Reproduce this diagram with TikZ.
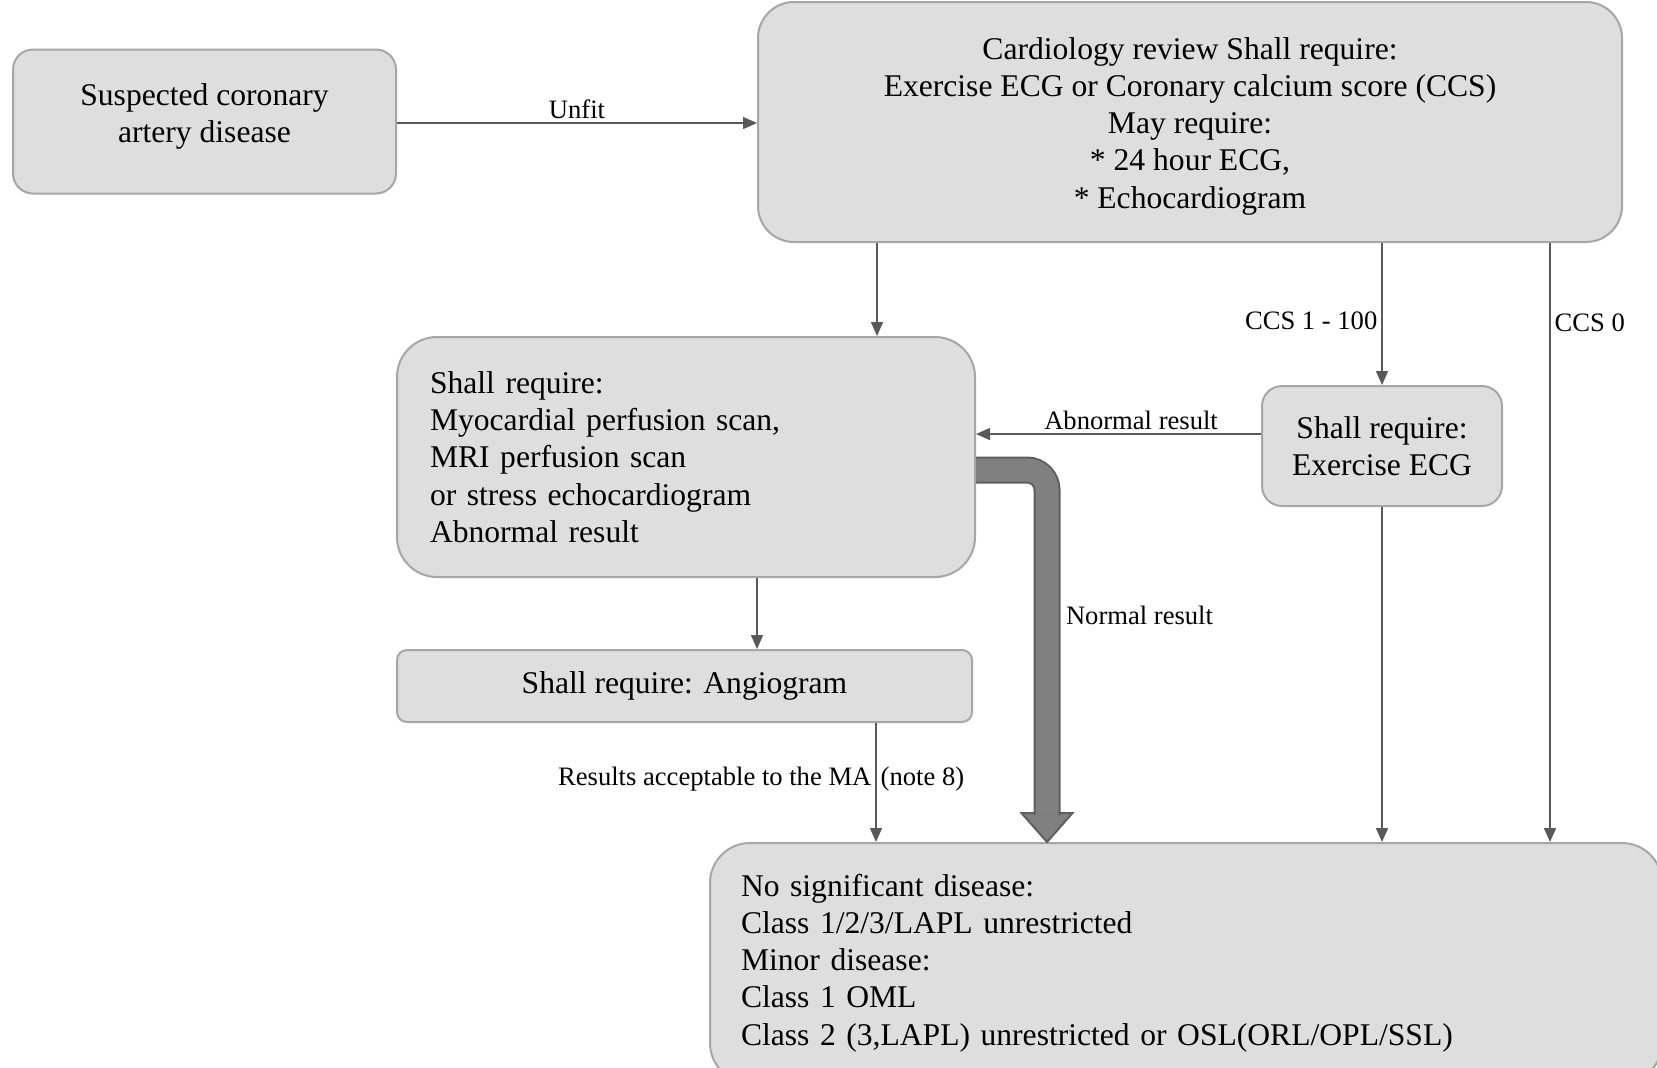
\documentclass[tikz,border=0pt]{standalone}
\usepackage{fontspec}
\setmainfont{Liberation Serif}
\usetikzlibrary{calc, positioning, arrows.meta}

\definecolor{boxfill}{HTML}{DEDEDE}
\definecolor{boxedge}{HTML}{A6A6A6}
\definecolor{lineclr}{HTML}{595959}
\definecolor{bigfill}{HTML}{808080}
\definecolor{bigedge}{HTML}{5F5F5F}

\tikzset{
  stepbox/.style={draw=boxedge, fill=boxfill, line width=1pt, inner sep=0pt,
    font=\fontsize{15.8}{18.6}\selectfont, align=center},
  arr/.style={draw=lineclr, line width=0.7pt, -{Triangle[width=6pt,length=7pt]}},
  lbl/.style={font=\fontsize{13.3}{15}\selectfont, inner sep=2pt, text=black},
  bigarrow/.style={draw=bigedge, line width=1pt, double=bigfill, double distance=11.5pt, rounded corners=10pt},
  bighead/.style={draw=bigedge, fill=bigfill, line width=1pt, line join=miter}
}

\begin{document}
\begin{tikzpicture}[x=0.5pt, y=-0.5pt]
\useasboundingbox (0,0) rectangle (1657,1067);

% boxes
\node[stepbox, rounded corners=10pt, minimum width=191.5pt, minimum height=72pt] (suspect) at (204.5,121.5) {Suspected coronary\\artery disease\rule[-8.2pt]{0pt}{0pt}};
\node[stepbox, rounded corners=18pt, minimum width=432pt, minimum height=120pt] (review) at (1190,122) {\rule{0pt}{15pt}Cardiology review Shall require:\\Exercise ECG or Coronary calcium score (CCS)\\May require:\\* 24 hour ECG,\\* Echocardiogram};
\node[stepbox, rounded corners=20pt, align=left, text width=256pt, inner xsep=16.5pt, minimum height=120pt] (scan) at (686,457) {Shall require:\\Myocardial perfusion scan,\\MRI perfusion scan\\or stress echocardiogram\\Abnormal result};
\node[stepbox, rounded corners=10pt, minimum width=120pt, minimum height=60pt] (exercise) at (1382,446) {Shall require:\\Exercise ECG};
\node[stepbox, rounded corners=5pt, minimum width=287.5pt, minimum height=36pt] (angio) at (684.5,686) {Shall require: Angiogram};
\node[stepbox, rounded corners=20pt, align=left, text width=445pt, inner xsep=15.5pt, minimum height=120pt] (result) at (1186,963) {No significant disease:\\Class 1/2/3/LAPL unrestricted\\Minor disease:\\Class 1 OML\\Class 2 (3,LAPL) unrestricted or OSL(ORL/OPL/SSL)};

% lanes
\coordinate (laneScan) at (877,0);
\coordinate (laneCcs) at (1550,0);
\coordinate (laneAngio) at (757,0);
\coordinate (laneMA) at (876,0);
\coordinate (bend) at (1047,470);
\coordinate (tipbase) at (1047,813);

% connectors
\draw[arr] (suspect.east |- 0,123) -- (review.west |- 0,123) node[lbl, midway, above] {Unfit};
\draw[arr] (review.south -| laneScan) -- (scan.north -| laneScan);
\draw[arr] (review.south -| exercise.north) -- (exercise.north) node[lbl, pos=0.55, left] {CCS 1 - 100};
\draw[arr] (review.south -| laneCcs) -- (result.north -| laneCcs) node[lbl, pos=0.133, right] {CCS 0};
\draw[arr] (exercise.west |- 0,434) -- (scan.east |- 0,434) node[lbl, pos=0.456, above] {Abnormal result};
\draw[arr] (scan.south -| laneAngio) -- (angio.north -| laneAngio);
\draw[arr] (angio.south -| laneMA) -- (result.north -| laneMA)
  node[lbl, pos=0.47, left] {Results acceptable to the MA}
  node[lbl, pos=0.47, right] {(note 8)};
\draw[arr] (exercise.south) -- (result.north -| exercise.south);

% thick arrow
\draw[bighead] (tipbase) ++(-25.5,0) -- ++(51,0) -- (tipbase |- result.north) -- cycle;
\draw[bigarrow] (scan.east |- bend) -- (bend) -- ($(tipbase)+(0,2)$)
  node[lbl, pos=0.42, right, xshift=7pt] {Normal result};
\end{tikzpicture}
\end{document}
